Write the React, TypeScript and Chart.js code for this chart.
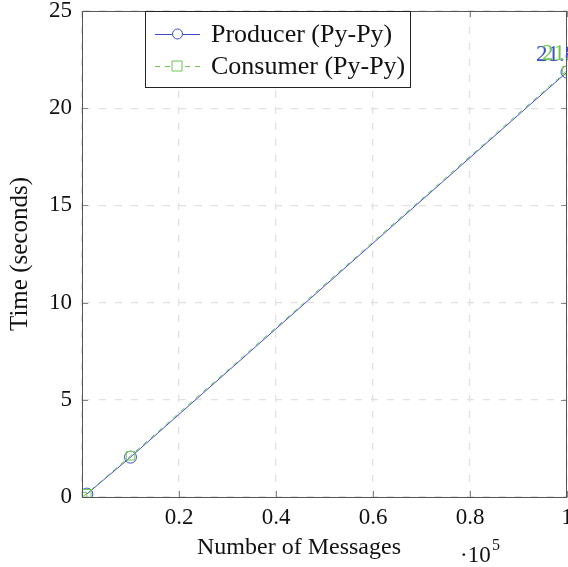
import React, { useEffect, useRef } from "react";
import { Chart, registerables } from "chart.js";

Chart.register(...registerables);

const producerX = [1000, 10000, 100000];
const producerY = [0.15, 2.05, 21.86];
const consumerX = [100, 1000, 10000, 100000];
const consumerY = [0.02, 0.17, 2.12, 21.93];
const seriesNames = ["Producer (Py-Py)", "Consumer (Py-Py)"];
const xTitle = "Number of Messages";
const yTitle = "Time (seconds)";
const xTickStep = 20000;
const yTickStep = 5;

const BLUE = "#3d50c6";
const GREEN = "#6cc850";
const FONT = "'Liberation Serif', 'DejaVu Serif', serif";
const FS = 23;

export default function App() {
  const ref = useRef<HTMLCanvasElement | null>(null);
  useEffect(() => {
    document.body.style.margin = "0";
    const canvas = ref.current!;
    const frame = {
      id: "frame",
      afterDatasetsDraw(chart: any) {
        const { ctx, chartArea: a } = chart;
        ctx.save();
        // inner tick marks
        ctx.strokeStyle = "#888";
        ctx.lineWidth = 1;
        const xs = chart.scales.x, ys = chart.scales.y;
        xs.ticks.forEach((t: any) => {
          const px = Math.round(xs.getPixelForValue(t.value)) + 0.5;
          ctx.beginPath();
          ctx.moveTo(px, a.bottom); ctx.lineTo(px, a.bottom - 6);
          ctx.moveTo(px, a.top); ctx.lineTo(px, a.top + 6);
          ctx.stroke();
        });
        ys.ticks.forEach((t: any) => {
          const py = Math.round(ys.getPixelForValue(t.value)) + 0.5;
          ctx.beginPath();
          ctx.moveTo(a.left, py); ctx.lineTo(a.left + 6, py);
          ctx.moveTo(a.right, py); ctx.lineTo(a.right - 6, py);
          ctx.stroke();
        });
        ctx.strokeStyle = "#555";
        ctx.strokeRect(a.left + 0.5, a.top + 0.5, a.right - a.left - 1, a.bottom - a.top);
        // value labels at last points
        ctx.font = `${FS}px ${FONT}`;
        ctx.textBaseline = "middle";
        ctx.textAlign = "left";
        const offs = [-31, -25];
        chart.data.datasets.forEach((ds: any, i: number) => {
          const meta = chart.getDatasetMeta(i);
          const last = meta.data[meta.data.length - 1];
          const v = ds.data[ds.data.length - 1].y;
          ctx.fillStyle = ds.borderColor;
          ctx.fillText(String(v), last.x + offs[i], last.y - 17);
        });
        // legend box
        const bx = 145, by = a.top, bw = 265, bh = 76;
        ctx.fillStyle = "#fff";
        ctx.fillRect(bx, by, bw, bh);
        ctx.strokeStyle = "#222";
        ctx.strokeRect(bx + 0.5, by + 0.5, bw, bh);
        ctx.font = `26px ${FONT}`;
        chart.data.datasets.forEach((ds: any, i: number) => {
          const y = by + 23 + i * 32;
          ctx.strokeStyle = ds.borderColor;
          ctx.setLineDash(ds.borderDash || []);
          ctx.beginPath();
          ctx.moveTo(155, y + 0.5);
          ctx.lineTo(200, y + 0.5);
          ctx.stroke();
          ctx.setLineDash([]);
          ctx.beginPath();
          if (ds.pointStyle === "rect") ctx.rect(172, y - 5, 10, 10);
          else ctx.arc(177.5, y, 5, 0, Math.PI * 2);
          ctx.fillStyle = "#fff";
          ctx.fill();
          ctx.stroke();
          ctx.fillStyle = "#111";
          ctx.fillText(ds.label, 211, y + 1);
        });
        // x title and multiplier
        ctx.fillStyle = "#111";
        ctx.font = `24px ${FONT}`;
        ctx.textAlign = "center";
        ctx.fillText(xTitle, 299, 548);
        ctx.textAlign = "left";
        ctx.font = `${FS}px ${FONT}`;
        ctx.fillText("\u00b710", 460, 556);
        ctx.font = `16px ${FONT}`;
        ctx.fillText("5", 492, 546);
        ctx.restore();
      },
    };
    const chart = new Chart(canvas, {
      type: "scatter",
      data: {
        datasets: [
          {
            label: seriesNames[0],
            data: producerX.map((x, i) => ({ x, y: producerY[i] })),
            showLine: true,
            borderColor: BLUE,
            backgroundColor: "rgba(0,0,0,0)",
            borderWidth: 1,
            pointRadius: 6,
            pointBorderWidth: 1,
            pointStyle: "circle",
            order: 2,
          },
          {
            label: seriesNames[1],
            data: consumerX.map((x, i) => ({ x, y: consumerY[i] })),
            showLine: true,
            borderColor: GREEN,
            backgroundColor: "rgba(0,0,0,0)",
            borderWidth: 1,
            borderDash: [5, 5],
            pointRadius: 6,
            pointBorderWidth: 1,
            pointStyle: "rect",
            order: 1,
          },
        ],
      },
      options: {
        responsive: false,
        animation: false,
        layout: { autoPadding: false, padding: { top: 11, right: 1, left: 0, bottom: 0 } },
        plugins: { legend: { display: false }, tooltip: { enabled: false } },
        scales: {
          x: {
            type: "linear",
            min: 0,
            max: 100000,
            border: { display: true, color: "#333", dash: [7, 9] },
            grid: { color: "#e0e0e0", lineWidth: 1.3, drawTicks: false },
            ticks: {
              stepSize: xTickStep,
              padding: 7,
              color: "#111",
              maxRotation: 0,
              font: { family: FONT, size: FS },
              callback: (v: any) => (v === 0 ? "" : String(Number(v) / 1e5)),
            },
            title: { display: false },
            afterFit: (s: any) => {
              s.height = 70;
              s.paddingLeft = 0;
              s.paddingRight = 0;
            },
          },
          y: {
            type: "linear",
            min: 0,
            max: 25,
            border: { display: true, color: "#555", dash: [7, 9] },
            grid: { color: "#e0e0e0", lineWidth: 1.3, drawTicks: false },
            ticks: {
              stepSize: yTickStep,
              padding: 10,
              color: "#111",
              font: { family: FONT, size: FS },
            },
            title: {
              display: true,
              text: yTitle,
              color: "#111",
              font: { family: FONT, size: 25 },
              padding: { top: 5, bottom: 0 },
            },
            afterFit: (s: any) => {
              s.width = 82;
              s.paddingTop = 0;
              s.paddingBottom = 0;
            },
          },
        },
      },
      plugins: [frame],
    } as any);
    return () => chart.destroy();
  }, []);
  return (
    <div style={{ width: 568, height: 567 }}>
      <canvas ref={ref} width={568} height={567} />
    </div>
  );
}
